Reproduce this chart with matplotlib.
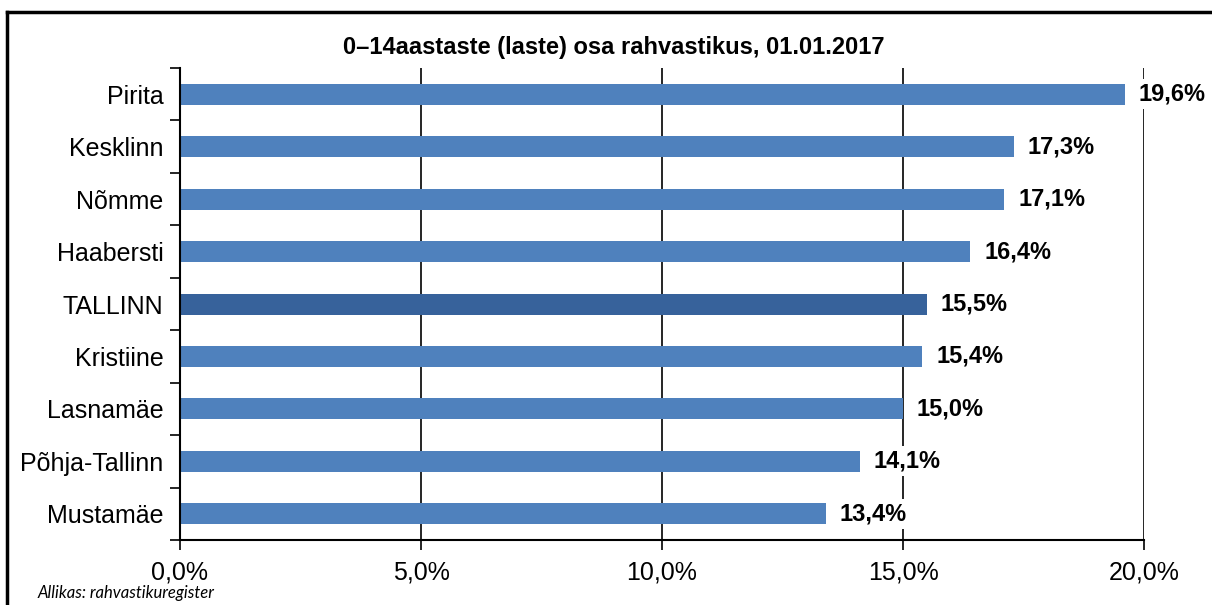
import numpy as np
import matplotlib.pyplot as plt
from matplotlib.ticker import FixedLocator, FuncFormatter

# Data
districts = ['Pirita', 'Kesklinn', 'Nõmme', 'Haabersti', 'TALLINN',
             'Kristiine', 'Lasnamäe', 'Põhja-Tallinn', 'Mustamäe']
shares = [19.6, 17.3, 17.1, 16.4, 15.5, 15.4, 15.0, 14.1, 13.4]
x_ticks = [0, 5, 10, 15, 20]
title = '0–14aastaste (laste) osa rahvastikus, 01.01.2017'
source = 'Allikas: rahvastikuregister'


def pct(v):
    return f'{v:.1f}%'.replace('.', ',')


def main():
    plt.rcParams['font.family'] = ['Liberation Sans', 'DejaVu Sans']

    fig = plt.figure(figsize=(12.12, 6.05), dpi=100)
    ax = fig.add_axes([0.1485, 0.1074, 0.7954, 0.7802])

    y = np.arange(len(districts))
    colors = ['#37629b' if d == 'TALLINN' else '#4f81bd' for d in districts]
    ax.barh(y, shares, height=0.4, color=colors, zorder=2)

    for yi, v in zip(y, shares):
        ax.annotate(pct(v), (v, yi), xytext=(10, 0), textcoords='offset points',
                    ha='left', va='center', fontsize=17, fontweight='bold',
                    bbox=dict(boxstyle='square,pad=0.15', fc='white',
                              ec='none'),
                    zorder=4, annotation_clip=False)

    ax.set_xlim(0, 20)
    ax.set_ylim(len(districts) - 0.5, -0.5)

    ax.set_xticks(x_ticks)
    ax.xaxis.set_major_formatter(FuncFormatter(lambda v, p: pct(v)))
    ax.tick_params(axis='x', direction='out', length=7, width=1.2,
                   labelsize=18, pad=8)

    ax.set_yticks(y)
    ax.set_yticklabels(districts)
    ax.tick_params(axis='y', which='major', length=0, labelsize=18, pad=12)
    ax.yaxis.set_minor_locator(FixedLocator(np.arange(-0.5, len(districts), 1)))
    ax.tick_params(axis='y', which='minor', direction='out', length=7,
                   width=1.2)

    for gx in x_ticks[1:]:
        ax.axvline(gx, color='black', lw=1.2, zorder=1)

    for s in ['top', 'right']:
        ax.spines[s].set_visible(False)
    ax.spines['left'].set_linewidth(1.5)
    ax.spines['bottom'].set_linewidth(1.5)

    fig.text(0.506, 0.922, title, ha='center', va='center', fontsize=17,
             fontweight='bold')
    fig.text(0.031, 0.02, source, ha='left', va='center', fontsize=12,
             style='italic', family=['Lato', 'DejaVu Sans'])

    # Outer frame (top and left edges visible in the reference)
    fig.add_artist(plt.Line2D([0.006, 1.0], [0.98, 0.98], color='black',
                              lw=2.5, transform=fig.transFigure))
    fig.add_artist(plt.Line2D([0.006, 0.006], [0.0, 0.98], color='black',
                              lw=2.5, transform=fig.transFigure))

    fig.savefig('out.png', dpi=100)


if __name__ == "__main__":
    main()
